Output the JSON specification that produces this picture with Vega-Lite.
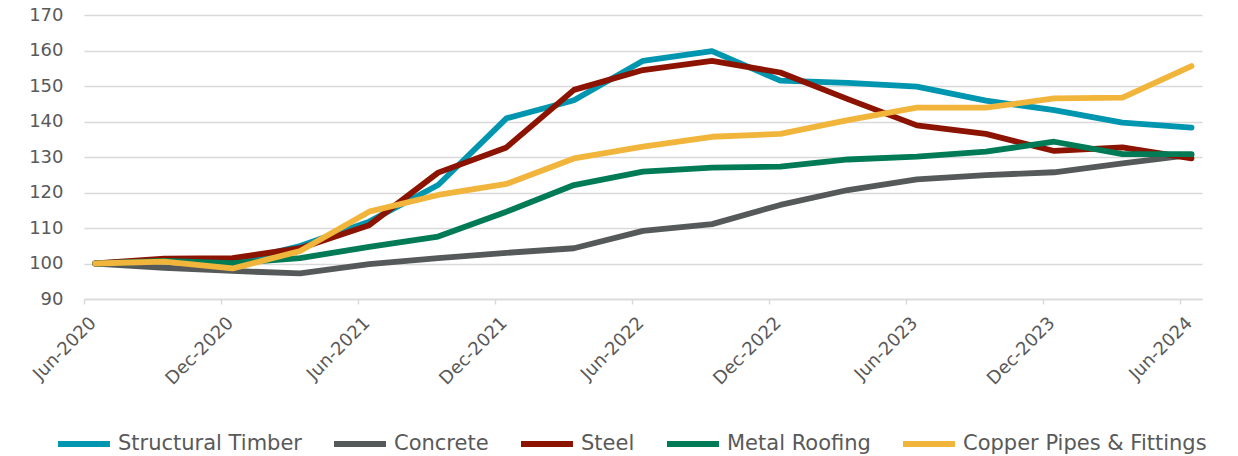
{
  "$schema": "https://vega.github.io/schema/vega-lite/v6.json",
  "width": 1118,
  "height": 284,
  "autosize": {"type": "none"},
  "padding": {"left": 84, "top": 15, "right": 36, "bottom": 157},
  "background": "white",
  "config": {
    "view": {"stroke": null},
    "font": "DejaVu Sans"
  },
  "data": {
    "values": [
      {"material": "Structural Timber", "date": "2020-06-16", "index": 100},
      {"material": "Structural Timber", "date": "2020-09-16", "index": 100.8},
      {"material": "Structural Timber", "date": "2020-12-16", "index": 100.3},
      {"material": "Structural Timber", "date": "2021-03-16", "index": 104.9},
      {"material": "Structural Timber", "date": "2021-06-16", "index": 111.8},
      {"material": "Structural Timber", "date": "2021-09-16", "index": 122.1},
      {"material": "Structural Timber", "date": "2021-12-16", "index": 140.9},
      {"material": "Structural Timber", "date": "2022-03-16", "index": 146.0},
      {"material": "Structural Timber", "date": "2022-06-16", "index": 157.1},
      {"material": "Structural Timber", "date": "2022-09-16", "index": 159.8},
      {"material": "Structural Timber", "date": "2022-12-16", "index": 151.5},
      {"material": "Structural Timber", "date": "2023-03-16", "index": 150.9},
      {"material": "Structural Timber", "date": "2023-06-16", "index": 149.8},
      {"material": "Structural Timber", "date": "2023-09-16", "index": 145.9},
      {"material": "Structural Timber", "date": "2023-12-16", "index": 143.2},
      {"material": "Structural Timber", "date": "2024-03-16", "index": 139.7},
      {"material": "Structural Timber", "date": "2024-06-16", "index": 138.3},
      {"material": "Concrete", "date": "2020-06-16", "index": 100},
      {"material": "Concrete", "date": "2020-09-16", "index": 98.8},
      {"material": "Concrete", "date": "2020-12-16", "index": 97.9},
      {"material": "Concrete", "date": "2021-03-16", "index": 97.2},
      {"material": "Concrete", "date": "2021-06-16", "index": 99.8},
      {"material": "Concrete", "date": "2021-09-16", "index": 101.5},
      {"material": "Concrete", "date": "2021-12-16", "index": 103.0},
      {"material": "Concrete", "date": "2022-03-16", "index": 104.3},
      {"material": "Concrete", "date": "2022-06-16", "index": 109.2},
      {"material": "Concrete", "date": "2022-09-16", "index": 111.1},
      {"material": "Concrete", "date": "2022-12-16", "index": 116.5},
      {"material": "Concrete", "date": "2023-03-16", "index": 120.7},
      {"material": "Concrete", "date": "2023-06-16", "index": 123.7},
      {"material": "Concrete", "date": "2023-09-16", "index": 124.9},
      {"material": "Concrete", "date": "2023-12-16", "index": 125.7},
      {"material": "Concrete", "date": "2024-03-16", "index": 128.2},
      {"material": "Concrete", "date": "2024-06-16", "index": 130.6},
      {"material": "Steel", "date": "2020-06-16", "index": 100},
      {"material": "Steel", "date": "2020-09-16", "index": 101.4},
      {"material": "Steel", "date": "2020-12-16", "index": 101.5},
      {"material": "Steel", "date": "2021-03-16", "index": 104.3},
      {"material": "Steel", "date": "2021-06-16", "index": 110.8},
      {"material": "Steel", "date": "2021-09-16", "index": 125.6},
      {"material": "Steel", "date": "2021-12-16", "index": 132.7},
      {"material": "Steel", "date": "2022-03-16", "index": 148.9},
      {"material": "Steel", "date": "2022-06-16", "index": 154.5},
      {"material": "Steel", "date": "2022-09-16", "index": 157.1},
      {"material": "Steel", "date": "2022-12-16", "index": 153.8},
      {"material": "Steel", "date": "2023-03-16", "index": 146.3},
      {"material": "Steel", "date": "2023-06-16", "index": 138.9},
      {"material": "Steel", "date": "2023-09-16", "index": 136.5},
      {"material": "Steel", "date": "2023-12-16", "index": 131.7},
      {"material": "Steel", "date": "2024-03-16", "index": 132.7},
      {"material": "Steel", "date": "2024-06-16", "index": 129.6},
      {"material": "Metal Roofing", "date": "2020-06-16", "index": 100},
      {"material": "Metal Roofing", "date": "2020-09-16", "index": 100.7},
      {"material": "Metal Roofing", "date": "2020-12-16", "index": 100.1},
      {"material": "Metal Roofing", "date": "2021-03-16", "index": 101.5},
      {"material": "Metal Roofing", "date": "2021-06-16", "index": 104.7},
      {"material": "Metal Roofing", "date": "2021-09-16", "index": 107.6},
      {"material": "Metal Roofing", "date": "2021-12-16", "index": 114.6},
      {"material": "Metal Roofing", "date": "2022-03-16", "index": 122.1},
      {"material": "Metal Roofing", "date": "2022-06-16", "index": 125.9},
      {"material": "Metal Roofing", "date": "2022-09-16", "index": 127.0},
      {"material": "Metal Roofing", "date": "2022-12-16", "index": 127.3},
      {"material": "Metal Roofing", "date": "2023-03-16", "index": 129.3},
      {"material": "Metal Roofing", "date": "2023-06-16", "index": 130.1},
      {"material": "Metal Roofing", "date": "2023-09-16", "index": 131.5},
      {"material": "Metal Roofing", "date": "2023-12-16", "index": 134.3},
      {"material": "Metal Roofing", "date": "2024-03-16", "index": 130.8},
      {"material": "Metal Roofing", "date": "2024-06-16", "index": 130.8},
      {"material": "Copper Pipes & Fittings", "date": "2020-06-16", "index": 100},
      {"material": "Copper Pipes & Fittings", "date": "2020-09-16", "index": 100.5},
      {"material": "Copper Pipes & Fittings", "date": "2020-12-16", "index": 98.6},
      {"material": "Copper Pipes & Fittings", "date": "2021-03-16", "index": 103.5},
      {"material": "Copper Pipes & Fittings", "date": "2021-06-16", "index": 114.6},
      {"material": "Copper Pipes & Fittings", "date": "2021-09-16", "index": 119.3},
      {"material": "Copper Pipes & Fittings", "date": "2021-12-16", "index": 122.4},
      {"material": "Copper Pipes & Fittings", "date": "2022-03-16", "index": 129.6},
      {"material": "Copper Pipes & Fittings", "date": "2022-06-16", "index": 132.9},
      {"material": "Copper Pipes & Fittings", "date": "2022-09-16", "index": 135.7},
      {"material": "Copper Pipes & Fittings", "date": "2022-12-16", "index": 136.5},
      {"material": "Copper Pipes & Fittings", "date": "2023-03-16", "index": 140.4},
      {"material": "Copper Pipes & Fittings", "date": "2023-06-16", "index": 143.9},
      {"material": "Copper Pipes & Fittings", "date": "2023-09-16", "index": 143.9},
      {"material": "Copper Pipes & Fittings", "date": "2023-12-16", "index": 146.5},
      {"material": "Copper Pipes & Fittings", "date": "2024-03-16", "index": 146.7},
      {"material": "Copper Pipes & Fittings", "date": "2024-06-16", "index": 155.6}
    ]
  },
  "mark": {"type": "line", "strokeWidth": 5.8, "strokeCap": "round", "strokeJoin": "round"},
  "encoding": {
    "x": {
      "field": "date",
      "type": "temporal",
      "scale": {
        "type": "utc",
        "domain": [
          {"year": 2020, "month": 6, "date": 1, "utc": true},
          {"year": 2024, "month": 6, "date": 30, "utc": true}
        ]
      },
      "axis": {
        "title": null,
        "values": [
          {"year": 2020, "month": 6, "date": 1, "utc": true},
          {"year": 2020, "month": 12, "date": 1, "utc": true},
          {"year": 2021, "month": 6, "date": 1, "utc": true},
          {"year": 2021, "month": 12, "date": 1, "utc": true},
          {"year": 2022, "month": 6, "date": 1, "utc": true},
          {"year": 2022, "month": 12, "date": 1, "utc": true},
          {"year": 2023, "month": 6, "date": 1, "utc": true},
          {"year": 2023, "month": 12, "date": 1, "utc": true},
          {"year": 2024, "month": 6, "date": 1, "utc": true}
        ],
        "format": "%b-%Y",
        "grid": false,
        "domain": true,
        "domainColor": "#d9d9d9",
        "domainWidth": 1.5,
        "ticks": true,
        "tickColor": "#d9d9d9",
        "tickWidth": 1.5,
        "tickSize": 5,
        "labelAngle": -45,
        "labelAlign": "right",
        "labelBaseline": "middle",
        "labelOffset": 9,
        "labelPadding": 16,
        "labelFont": "DejaVu Sans",
        "labelFontSize": 18,
        "labelColor": "#595959",
        "labelOverlap": false,
        "labelFlush": false
      }
    },
    "y": {
      "field": "index",
      "type": "quantitative",
      "scale": {"domain": [90, 170], "nice": false, "zero": false},
      "axis": {
        "title": null,
        "values": [90, 100, 110, 120, 130, 140, 150, 160, 170],
        "grid": true,
        "gridColor": "#d9d9d9",
        "gridWidth": 1.5,
        "domain": false,
        "ticks": false,
        "labelPadding": 21,
        "labelFont": "DejaVu Sans",
        "labelFontSize": 18,
        "labelColor": "#595959",
        "labelFlush": false,
        "labelOverlap": false
      }
    },
    "color": {
      "field": "material",
      "type": "nominal",
      "sort": ["Structural Timber", "Concrete", "Steel", "Metal Roofing", "Copper Pipes & Fittings"],
      "scale": {
        "domain": ["Structural Timber", "Concrete", "Steel", "Metal Roofing", "Copper Pipes & Fittings"],
        "range": ["#0096B0", "#56595A", "#8C1300", "#007B55", "#F2B53B"]
      },
      "legend": {
        "title": null,
        "orient": "none",
        "direction": "horizontal",
        "legendX": -29,
        "legendY": 400,
        "padding": 0,
        "symbolType": "stroke",
        "symbolSize": 2700,
        "symbolStrokeWidth": 6,
        "symbolStrokeColor": null,
        "labelFont": "DejaVu Sans",
        "labelFontSize": 21,
        "labelColor": "#595959",
        "labelOffset": 5,
        "columnPadding": 20,
        "labelLimit": 400
      }
    }
  }
}
